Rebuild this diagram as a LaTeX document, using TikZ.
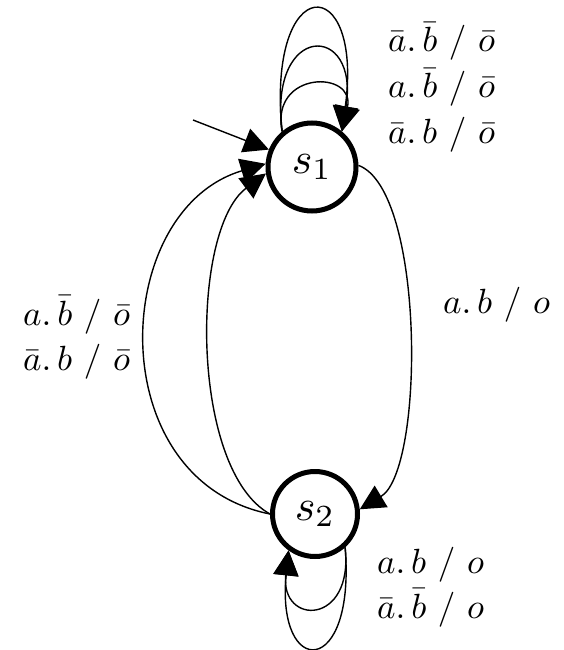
\documentclass[tikz,border=0pt]{standalone}
\usepackage{graphicx}
\usetikzlibrary{arrows.meta}
% scaled math for transition and state labels
\newcommand{\trlabel}[1]{\scalebox{3.5}{$#1$}}
\newcommand{\stlabel}[1]{\scalebox{4.4}{$#1$}}
\begin{document}
\begin{tikzpicture}[x=1pt,y=-1pt,
  state/.style={circle,draw,line width=5pt,inner sep=0pt,fill=white},
  edge/.style={line width=1.4pt,-{Triangle[length=25pt,width=25pt]}},
  lbl/.style={anchor=base west,inner sep=0pt}]
\useasboundingbox (0,0) rectangle (563,650);

% states
\node[state,minimum size=88pt] (s1) at (312,167) {\stlabel{s_1}};
\node[state,minimum size=85pt] (s2) at (315,514) {\stlabel{s_2}};

% initial arrow
\coordinate (init) at (193,120);
\draw[edge] (init) -- (s1.158);

% self loops on s1
\draw[edge] (s1.130) .. controls (266,-30) and (364,-30) .. (s1.50);
\draw[edge] (s1.130) .. controls (268,22) and (360,22) .. (s1.50);
\draw[edge] (s1.130) .. controls (270,70) and (356,70) .. (s1.50);

% s1 -> s2
\draw[edge] (s1.2) .. controls (425,190) and (425,470) .. (s2.6);

% s2 -> s1
\draw[edge] (s2.180) .. controls (100,480) and (110,210) .. (s1.176);
\draw[edge] (s2.180) .. controls (190,470) and (190,230) .. (s1.188);

% self loops on s2
\draw[edge] (s2.-48) .. controls (356,679) and (276,679) .. (s2.-126);
\draw[edge] (s2.-48) .. controls (354,626) and (280,626) .. (s2.-126);

% transition labels
\node[lbl] (t1) at (388,52) {\trlabel{\bar{a}.\,\bar{b}\ /\ \bar{o}}};
\node[lbl] (t2) at (388,98) {\trlabel{a.\,\bar{b}\ /\ \bar{o}}};
\node[lbl] (t3) at (388,143) {\trlabel{\bar{a}.\,b\ /\ \bar{o}}};
\node[lbl] (r1) at (443,313) {\trlabel{a.\,b\ /\ o}};
\node[lbl] (l1) at (23,325) {\trlabel{a.\,\bar{b}\ /\ \bar{o}}};
\node[lbl] (l2) at (23,370) {\trlabel{\bar{a}.\,b\ /\ \bar{o}}};
\node[lbl] (b1) at (377,573) {\trlabel{a.\,b\ /\ o}};
\node[lbl] (b2) at (377,618) {\trlabel{\bar{a}.\,\bar{b}\ /\ o}};
\end{tikzpicture}
\end{document}
